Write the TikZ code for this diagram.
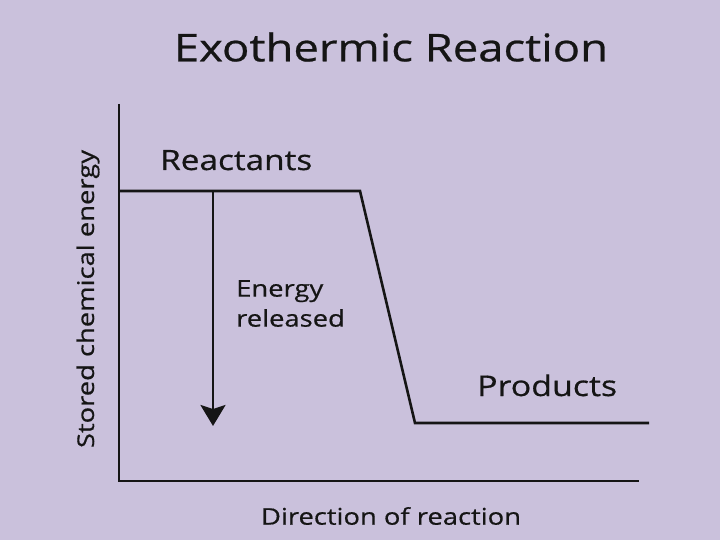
\documentclass[tikz,border=0pt]{standalone}
\usepackage{fontspec}
\setmainfont{Open Sans}[FakeStretch=1.19,FakeBold=0.6]
\usetikzlibrary{arrows.meta}
\definecolor{bg}{HTML}{CAC1DC}
\definecolor{ink}{HTML}{151515}
\begin{document}
\begin{tikzpicture}[x=1pt,y=-1pt,
  axis/.style={draw=ink,line width=2.6pt},
  curve/.style={draw=ink,line width=2.6pt,line join=miter},
  lbl/.style={inner sep=0pt,text=ink},
  arr/.style={draw=ink,line width=2.6pt,-{Stealth[width=25pt,length=21pt,inset=4pt]}}]
\fill[bg] (0,0) rectangle (720,540);
\useasboundingbox (0,0) rectangle (720,540);
\node[lbl,font=\fontsize{38.2}{44}\selectfont] (title) at (391,47) {Exothermic Reaction};
\coordinate (ytop) at (119,104);
\coordinate (origin) at (119,481);
\coordinate (xend) at (639,481);
\draw[axis] (ytop) -- (origin) -- (xend);
\coordinate (r0) at (119,191);
\coordinate (r1) at (360,191);
\coordinate (p0) at (415,423);
\coordinate (p1) at (649,423);
\draw[curve] (r0) -- (r1) -- (p0) -- (p1);
\coordinate (a0) at (213,191);
\coordinate (a1) at (213,426);
\draw[arr] (a0) -- (a1);
\node[lbl,font=\fontsize{28}{34}\selectfont,anchor=base west] (react) at (160,170) {Reactants};
\node[lbl,font=\fontsize{28.5}{34}\selectfont,anchor=base west] (prod) at (477,396) {Products};
\node[lbl,font=\fontsize{23}{30}\selectfont,anchor=north west,align=left] (rel) at (236,280) {Energy\\released};
\node[lbl,font=\fontsize{23}{30}\selectfont] (xl) at (391,516) {Direction of reaction};
\node[lbl,font=\fontsize{23}{30}\selectfont,rotate=90] (yl) at (88,299) {Stored chemical energy};
\end{tikzpicture}
\end{document}
